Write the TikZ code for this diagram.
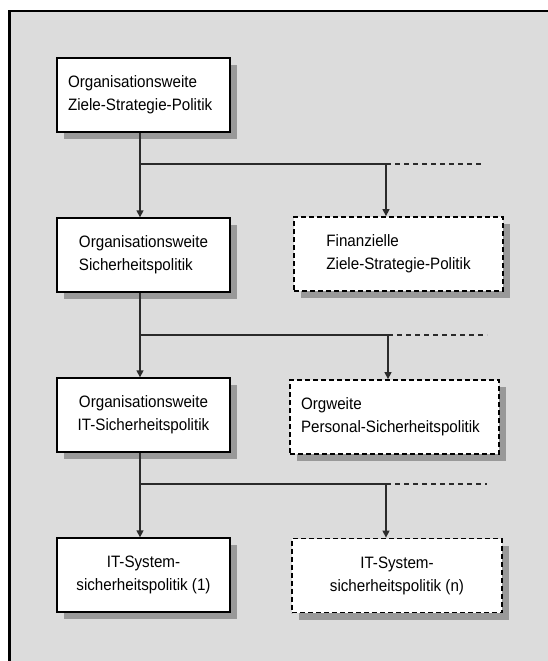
\documentclass[tikz,border=0pt]{standalone}
\usepackage{fontspec}
\setmainfont[FakeStretch=0.92]{Liberation Sans}
\usetikzlibrary{arrows.meta,shadows}
\definecolor{panel}{HTML}{DCDCDC}
\definecolor{shade}{HTML}{999999}
\definecolor{wire}{HTML}{2B2B2B}
\tikzset{
  policy/.style={draw=black, line width=1.3pt, fill=white,
    minimum width=173pt, minimum height=74pt,
    font=\fontsize{16.5}{23}\selectfont,
    drop shadow={shadow xshift=7pt, shadow yshift=-7pt, fill=shade, opacity=1}},
  optional/.style={policy, line width=1.8pt, dash pattern=on 5pt off 3pt},
  link/.style={draw=wire, line width=1.3pt},
  feed/.style={link, -{Triangle[length=7pt,width=7pt]}},
  more/.style={link, dash pattern=on 5pt off 4pt},
}
\begin{document}
\begin{tikzpicture}[x=1pt, y=-1pt]
\useasboundingbox (0,0) rectangle (548,661);
% panel with its open frame
\fill[panel] (9.5,11) rectangle (548,661);
\draw[black, line width=2.5pt] (548,11) -- (9.5,11) -- (9.5,661);

% main chain
\node[policy, align=left, text width=151pt, inner xsep=11pt] (b1) at (143.5,95)
  {Organisationsweite\\Ziele-Strategie-Politik};
\node[policy, align=left] (b2) at (143.5,255)
  {Organisationsweite\\Sicherheitspolitik};
\node[policy, align=center] (b3) at (143.5,415)
  {Organisationsweite\\IT-Sicherheitspolitik};
\node[policy, align=center] (b4) at (143.5,575)
  {IT-System-\\sicherheitspolitik (1)};

% parallel policies
\node[optional, align=left, minimum width=209pt] (r1) at (398.5,254)
  {Finanzielle\\Ziele-Strategie-Politik};
\node[optional, align=left, text width=187pt, inner xsep=11pt] (r2) at (394.5,417)
  {Orgweite\\Personal-Sicherheitspolitik};
\node[optional, align=center, minimum width=210pt] (r3) at (397,575.5)
  {IT-System-\\sicherheitspolitik (n)};

% branch points
\coordinate (j1) at (140,164); \coordinate (k1) at (386,164); \coordinate (e1) at (481,164);
\coordinate (j2) at (140,335); \coordinate (k2) at (388,335); \coordinate (e2) at (487,335);
\coordinate (j3) at (140,484); \coordinate (k3) at (386,484); \coordinate (e3) at (487,484);

% connectors
\draw[link] (j1 |- b1.south) -- (j1) -- (k1);
\draw[feed] (j1) -- (j1 |- b2.north);
\draw[feed] (k1) -- (k1 |- r1.north);
\draw[more] (k1) -- (e1);

\draw[link] (j2 |- b2.south) -- (j2) -- (k2);
\draw[feed] (j2) -- (j2 |- b3.north);
\draw[feed] (k2) -- (k2 |- r2.north);
\draw[more] (k2) -- (e2);

\draw[link] (j3 |- b3.south) -- (j3) -- (k3);
\draw[feed] (j3) -- (j3 |- b4.north);
\draw[feed] (k3) -- (k3 |- r3.north);
\draw[more] (k3) -- (e3);
\end{tikzpicture}
\end{document}
